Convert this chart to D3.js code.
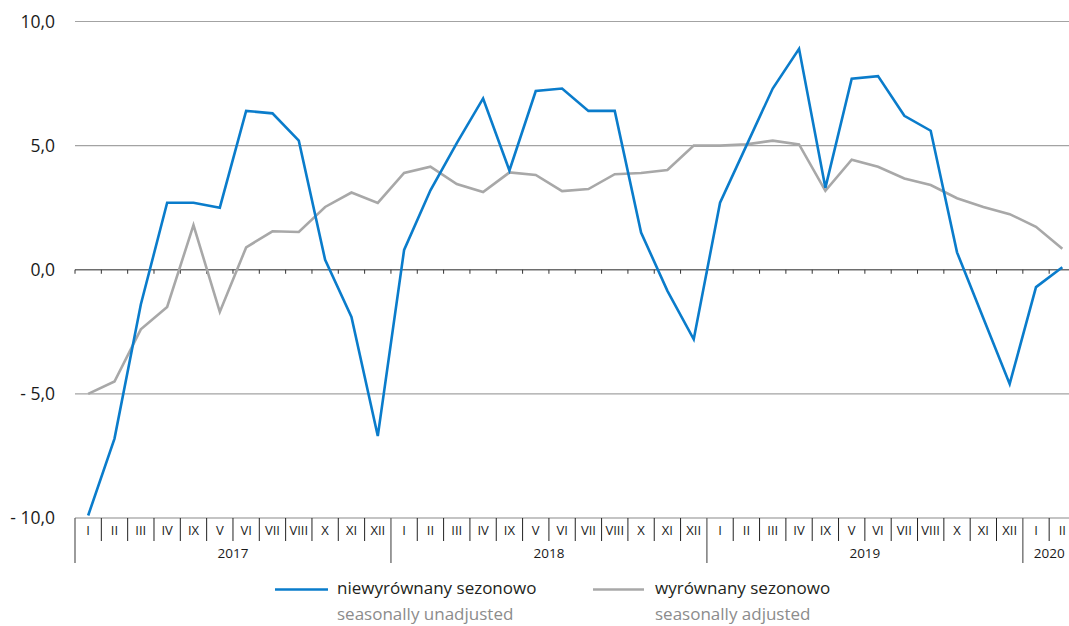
<!DOCTYPE html>
<html>
<head>
<meta charset="utf-8">
<script src="https://cdn.jsdelivr.net/npm/d3@7"></script>
<style>
  html, body { margin: 0; padding: 0; background: #fff; }
  svg { display: block; font-family: "Open Sans", "DejaVu Sans", sans-serif; }
</style>
</head>
<body>
<svg id="chart" width="1069" height="626"></svg>
<script>
// ---- data ----
const years = ["2017", "2018", "2019", "2020"];
const monthLabels = ["I", "II", "III", "IV", "IX", "V", "VI", "VII", "VIII", "X", "XI", "XII"];
const monthsPerYear = [12, 12, 12, 2];
const unadjusted = [
  -9.9, -6.8, -1.4, 2.7, 2.7, 2.5, 6.4, 6.3, 5.2, 0.4, -1.9, -6.7,
  0.8, 3.2, 5.1, 6.9, 4.0, 7.2, 7.3, 6.4, 6.4, 1.5, -0.85, -2.8,
  2.7, 5.0, 7.3, 8.9, 3.3, 7.7, 7.8, 6.2, 5.6, 0.7, -1.95, -4.6,
  -0.7, 0.1
];
const adjusted = [
  -5.0, -4.5, -2.4, -1.5, 1.8, -1.7, 0.9, 1.55, 1.52, 2.53, 3.11, 2.69,
  3.9, 4.15, 3.45, 3.13, 3.92, 3.82, 3.17, 3.25, 3.85, 3.9, 4.02, 5.0,
  5.0, 5.05, 5.2, 5.05, 3.18, 4.43, 4.15, 3.68, 3.41, 2.88, 2.53, 2.24,
  1.73, 0.85
];
const yTicks = [10, 5, 0, -5, -10];
const seriesNames = [
  { pl: "niewyrównany sezonowo", en: "seasonally unadjusted", color: "#0a7ccb" },
  { pl: "wyrównany sezonowo", en: "seasonally adjusted", color: "#a8a8a8" }
];

// ---- build categories ----
const cats = [];
years.forEach((yr, yi) => {
  for (let m = 0; m < monthsPerYear[yi]; m++) {
    cats.push({ key: yr + "-" + m, year: yr, label: monthLabels[m] });
  }
});

const svg = d3.select("#chart");
const x = d3.scaleBand().domain(cats.map(d => d.key)).range([75, 1075.5]).padding(0);
const y = d3.scaleLinear().domain([-10, 10]).range([518, 21.5]);
const bw = x.bandwidth();

// gridlines
svg.append("g").selectAll("line")
  .data(yTicks.filter(v => v !== 0 && v !== -10))
  .join("line")
  .attr("x1", 75).attr("x2", 1069)
  .attr("y1", d => y(d)).attr("y2", d => y(d))
  .attr("stroke", "#a3a3a3").attr("stroke-width", 1.2);

// y labels
svg.append("g").selectAll("text")
  .data(yTicks)
  .join("text")
  .attr("x", 55).attr("y", d => y(d))
  .attr("dy", "0.35em")
  .attr("text-anchor", "end")
  .attr("font-size", 17.5)
  .attr("fill", "#1a1a1a")
  .text(d => (d < 0 ? "- " : "") + d3.format(".1f")(Math.abs(d)).replace(".", ","));

// zero line with ticks
svg.append("line")
  .attr("x1", 75).attr("x2", 1069)
  .attr("y1", y(0)).attr("y2", y(0))
  .attr("stroke", "#6e6e6e").attr("stroke-width", 1.4);
svg.append("g").selectAll("line")
  .data(cats)
  .join("line")
  .attr("x1", d => x(d.key)).attr("x2", d => x(d.key))
  .attr("y1", y(0)).attr("y2", y(0) + 4)
  .attr("stroke", "#333").attr("stroke-width", 1);

// bottom axis
svg.append("line")
  .attr("x1", 75).attr("x2", 1069)
  .attr("y1", y(-10)).attr("y2", y(-10))
  .attr("stroke", "#8a8a8a").attr("stroke-width", 1.2);
svg.append("g").selectAll("line")
  .data(cats)
  .join("line")
  .attr("x1", d => x(d.key)).attr("x2", d => x(d.key))
  .attr("y1", y(-10)).attr("y2", (d, i) => (i === 0 || d.label === "I") ? 563 : 541)
  .attr("stroke", (d, i) => (i === 0 || d.label === "I") ? "#666" : "#222")
  .attr("stroke-width", (d, i) => (i === 0 || d.label === "I") ? 1.3 : 1);

svg.append("g").selectAll("text")
  .data(cats)
  .join("text")
  .attr("x", d => x(d.key) + bw / 2)
  .attr("y", 530.5)
  .attr("dy", "0.35em")
  .attr("text-anchor", "middle")
  .attr("font-size", 13)
  .attr("fill", "#1a1a1a")
  .text(d => d.label);

// year labels
const yearGroups = d3.groups(cats, d => d.year);
svg.append("g").selectAll("text")
  .data(yearGroups)
  .join("text")
  .attr("x", d => {
    const first = x(d[1][0].key);
    const last = x(d[1][d[1].length - 1].key) + bw;
    return (first + last) / 2;
  })
  .attr("y", 553)
  .attr("dy", "0.35em")
  .attr("text-anchor", "middle")
  .attr("font-size", 13.5)
  .attr("fill", "#1a1a1a")
  .text(d => d[0]);

// lines
const line = d3.line()
  .x((d, i) => x(cats[i].key) + bw / 2)
  .y(d => y(d));

svg.append("path")
  .datum(adjusted)
  .attr("d", line)
  .attr("fill", "none")
  .attr("stroke", seriesNames[1].color)
  .attr("stroke-width", 2.6)
  .attr("stroke-linejoin", "miter");

svg.append("path")
  .datum(unadjusted)
  .attr("d", line)
  .attr("fill", "none")
  .attr("stroke", seriesNames[0].color)
  .attr("stroke-width", 2.6)
  .attr("stroke-linejoin", "miter");

// legend
const legendPos = [{ lx: 275, lw: 53, tx: 337 }, { lx: 593, lw: 51, tx: 655 }];
const lg = svg.append("g").selectAll("g")
  .data(seriesNames)
  .join("g");
lg.append("line")
  .attr("x1", (d, i) => legendPos[i].lx).attr("x2", (d, i) => legendPos[i].lx + legendPos[i].lw)
  .attr("y1", 589.5).attr("y2", 589.5)
  .attr("stroke", d => d.color).attr("stroke-width", 2.6);
lg.append("text")
  .attr("x", (d, i) => legendPos[i].tx).attr("y", 588)
  .attr("dy", "0.35em")
  .attr("font-size", 17)
  .attr("fill", "#231f20")
  .text(d => d.pl);
lg.append("text")
  .attr("x", (d, i) => legendPos[i].tx).attr("y", 614)
  .attr("dy", "0.35em")
  .attr("font-size", 17)
  .attr("fill", "#8c8c8c")
  .text(d => d.en);
</script>
</body>
</html>
